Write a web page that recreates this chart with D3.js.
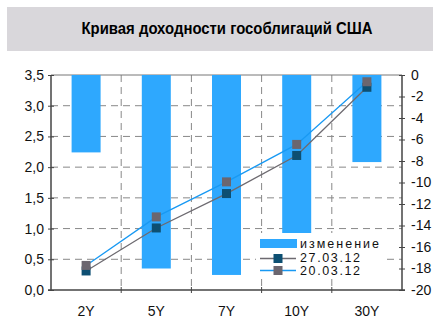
<!DOCTYPE html>
<html><head><meta charset="utf-8">
<script src="https://cdn.jsdelivr.net/npm/d3@7"></script>
<style>body{margin:0;background:#fff}svg{display:block}text{font-family:"Liberation Sans",Arial,sans-serif}</style>
</head><body><svg id="c" width="438" height="320"></svg>
<script>
const categories = ["2Y","5Y","7Y","10Y","30Y"];
const change = [-7.2,-18.0,-18.6,-14.7,-8.1];
const y27 = [0.31,1.01,1.57,2.19,3.30];
const y20 = [0.40,1.19,1.76,2.37,3.39];
const leftTicks = [0,0.5,1,1.5,2,2.5,3,3.5];
const rightTicks = [0,-2,-4,-6,-8,-10,-12,-14,-16,-18,-20];
const title = "Кривая доходности гособлигаций США";
const names = ["изменение","27.03.12","20.03.12"];

const svg = d3.select("#c");
const L=51,R=402,T=75,B=290;
const x = d3.scaleBand().domain(categories).range([L,R]);
const yl = d3.scaleLinear().domain([0,3.5]).range([B,T]);
const yr = d3.scaleLinear().domain([-20,0]).range([B,T]);

// title
svg.append("rect").attr("x",7).attr("y",7).attr("width",426).attr("height",44).attr("fill","#d9d7db");
svg.append("text").attr("x",227).attr("y",34).attr("text-anchor","middle").attr("font-size",16).attr("font-weight","bold")
  .attr("textLength",291).attr("lengthAdjust","spacingAndGlyphs").text(title);

// grid
const g = svg.append("g");
leftTicks.filter(d=>d>0&&d<3.5).forEach(d=>{
  g.append("line").attr("x1",L).attr("x2",R).attr("y1",yl(d)).attr("y2",yl(d)).attr("stroke","#888").attr("stroke-dasharray","7,5");
});
categories.slice(1).forEach(c=>{
  const xx = x(c);
  g.append("line").attr("x1",xx).attr("x2",xx).attr("y1",T).attr("y2",B).attr("stroke","#888").attr("stroke-dasharray","7,5");
});
svg.append("line").attr("x1",L).attr("x2",R).attr("y1",T).attr("y2",T).attr("stroke","#777");

// bars
svg.append("g").selectAll("rect").data(categories).join("rect")
  .attr("x",d=>x(d)+x.bandwidth()/2-14.5).attr("width",29)
  .attr("y",yr(0)).attr("height",(d,i)=>yr(change[i])-yr(0)).attr("fill","#2ea8fe");

// lines
const line = d3.line().x((d,i)=>x(categories[i])+x.bandwidth()/2).y(d=>yl(d));
svg.append("path").datum(y27).attr("d",line).attr("fill","none").attr("stroke","#6d6a70").attr("stroke-width",1.3);
svg.append("path").datum(y20).attr("d",line).attr("fill","none").attr("stroke","#1899f3").attr("stroke-width",1.3);
svg.append("g").selectAll("rect").data(y27).join("rect")
  .attr("x",(d,i)=>x(categories[i])+x.bandwidth()/2-4.5).attr("y",d=>yl(d)-4.5).attr("width",9).attr("height",9).attr("fill","#0d4f72");
svg.append("g").selectAll("rect").data(y20).join("rect")
  .attr("x",(d,i)=>x(categories[i])+x.bandwidth()/2-4.5).attr("y",d=>yl(d)-4.5).attr("width",9).attr("height",9).attr("fill","#6b666f");

// axes
const axL = svg.append("g").attr("transform",`translate(${L},0)`)
  .call(d3.axisLeft(yl).tickValues(leftTicks).tickSize(3).tickFormat(d=>d3.format(".1f")(d).replace(".",",")));
const axR = svg.append("g").attr("transform",`translate(${R},0)`)
  .call(d3.axisRight(yr).tickValues(rightTicks).tickSize(3).tickFormat(d=>d<0?"-"+Math.abs(d):d));
[axL,axR].forEach(a=>{
  a.select(".domain").attr("stroke","#444").attr("stroke-width",1.5);
  a.selectAll(".tick line").attr("stroke","#444").attr("x1",-3).attr("x2",3);
  a.selectAll("text").attr("font-size",14).attr("fill","#111").attr("font-family","Liberation Sans, Arial, sans-serif");
});
axL.selectAll("text").attr("x",-7);
axR.selectAll("text").attr("x",9);
axL.select(".domain").attr("d",`M0,${T}V${B}`);
axR.select(".domain").attr("d",`M0,${T}V${B}`);

const axB = svg.append("g").attr("transform",`translate(0,${B})`)
  .call(d3.axisBottom(x).tickSize(0).tickPadding(16));
axB.select(".domain").attr("d",`M${L-3},0H${R+3}`).attr("stroke","#444").attr("stroke-width",1.5);
axB.selectAll("text").attr("font-size",14).attr("fill","#111").attr("font-family","Liberation Sans, Arial, sans-serif");
categories.slice(1).forEach(c=>{
  axB.append("line").attr("x1",x(c)).attr("x2",x(c)).attr("y1",-3).attr("y2",3).attr("stroke","#444");
});

// legend
const lg = svg.append("g");
lg.append("rect").attr("x",256).attr("y",233).attr("width",130).attr("height",45).attr("fill","#fff");
lg.append("rect").attr("x",260).attr("y",239).attr("width",37).attr("height",9).attr("fill","#2ea8fe");
lg.append("line").attr("x1",260).attr("x2",296).attr("y1",258.5).attr("y2",258.5).attr("stroke","#6d6a70").attr("stroke-width",1.3);
lg.append("rect").attr("x",273.5).attr("y",254).attr("width",9).attr("height",9).attr("fill","#0d4f72");
lg.append("line").attr("x1",260).attr("x2",296).attr("y1",270.5).attr("y2",270.5).attr("stroke","#1899f3").attr("stroke-width",1.3);
lg.append("rect").attr("x",273.5).attr("y",266).attr("width",9).attr("height",9).attr("fill","#6b666f");
const lw = [79,60,60];
[248,262,275].forEach((yy,i)=>{
  lg.append("text").attr("x",300).attr("y",yy).attr("font-size",12.5).attr("fill","#111")
    .attr("textLength",lw[i]).attr("lengthAdjust","spacing").text(names[i]);
});
</script></body></html>
